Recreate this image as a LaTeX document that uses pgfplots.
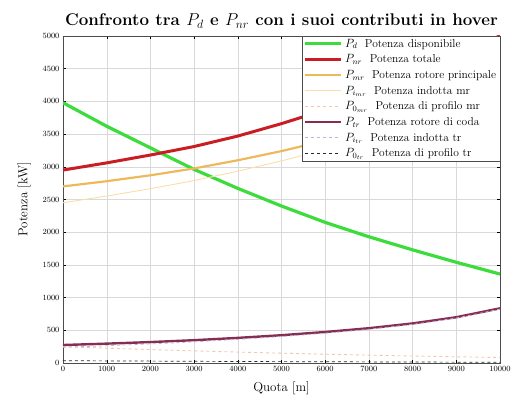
\documentclass[border=0pt]{standalone}
\usepackage{pgfplots}
\pgfplotsset{compat=1.18}
\usepackage{pgfplotstable}

\definecolor{cPd}{RGB}{60,220,60}
\definecolor{cPnr}{RGB}{200,30,35}
\definecolor{cPmr}{RGB}{238,185,90}
\definecolor{cPimr}{RGB}{250,222,170}
\definecolor{cPomr}{RGB}{240,200,175}
\definecolor{cPtr}{RGB}{135,45,80}
\definecolor{cPitr}{RGB}{185,180,225}
\definecolor{cPotr}{RGB}{40,40,40}

% Hover power budget vs altitude [m] -> [kW]
\pgfplotstableread{
h     Pd    Pnr   Pmr   Pimr  Pomr  Ptr  Pitr  Potr
0     3980  2950  2700  2450  250   275  240   35
1000  3620  3060  2780  2553  227   296  264   32
2000  3290  3180  2870  2665  205   320  291   29
3000  2960  3310  2975  2789  186   349  323   26
4000  2670  3470  3100  2933  167   384  361   23
5000  2400  3660  3240  3090  150   425  404   21
6000  2150  3870  3400  3265  135   474  455   19
7000  1930  4110  3590  3470  120   532  515   17
8000  1730  4400  3810  3703  107   605  590   15
9000  1540  4750  4060  3965  95    700  687   13
10000 1360  5170  4350  4266  84    836  824   12
}\hover

\begin{document}
\begin{tikzpicture}
\begin{axis}[
  scale only axis,
  width=437bp, height=327bp,
  xmin=0, xmax=10000, ymin=0, ymax=5000,
  xtick={0,1000,...,10000},
  ytick={0,500,...,5000},
  scaled ticks=false,
  /pgf/number format/.cd, set thousands separator={}, /pgfplots/.cd,
  tick label style={font=\fontsize{8}{9}\selectfont},
  grid=major,
  major grid style={gray!30, line width=0.4pt},
  tick align=inside,
  tick style={black, line width=0.4pt},
  major tick length=3pt,
  axis line style={black!70, line width=0.6pt},
  title={\bfseries Confronto tra $P_d$ e $P_{nr}$ con i suoi contributi in hover},
  title style={font=\fontsize{17}{19}\selectfont, yshift=-2pt},
  xlabel={Quota [m]},
  ylabel={Potenza [kW]},
  label style={font=\fontsize{13}{15}\selectfont},
  xlabel style={yshift=-3pt},
  ylabel style={yshift=5pt},
  legend cell align=left,
  legend style={font=\fontsize{11.5}{13}\selectfont, draw=black!70, line width=0.5pt,
    fill=white, inner sep=1.5pt, outer sep=0pt, row sep=3pt,
    at={(1,1)}, anchor=north east,
    nodes={inner ysep=1.5pt, inner xsep=2.5pt}},
  legend image post style={xscale=2.1},
  clip=true,
]
\addplot[cPd, line width=3.2pt] table[x=h, y=Pd] {\hover};
\addlegendentry{$P_d$\ \ Potenza disponibile}
\addplot[cPnr, line width=3pt, restrict y to domain*=0:5000] table[x=h, y=Pnr] {\hover};
\addlegendentry{$P_{nr}$\ \ Potenza totale}
\addplot[cPmr, line width=2.2pt] table[x=h, y=Pmr] {\hover};
\addlegendentry{$P_{mr}$\ \ Potenza rotore principale}
\addplot[cPimr, line width=0.9pt] table[x=h, y=Pimr] {\hover};
\addlegendentry{$P_{i_{mr}}$\ \ Potenza indotta mr}
\addplot[cPomr, line width=0.9pt, dashed] table[x=h, y=Pomr] {\hover};
\addlegendentry{$P_{0_{mr}}$\ \ Potenza di profilo mr}
\addplot[cPtr, line width=2.4pt] table[x=h, y=Ptr] {\hover};
\addlegendentry{$P_{tr}$\ \ Potenza rotore di coda}
\addplot[cPitr, line width=0.8pt, dashed] table[x=h, y=Pitr] {\hover};
\addlegendentry{$P_{i_{tr}}$\ \ Potenza indotta tr}
\addplot[cPotr, line width=0.7pt, dashed] table[x=h, y=Potr] {\hover};
\addlegendentry{$P_{0_{tr}}$\ \ Potenza di profilo tr}
\end{axis}
\path ([shift={(-63bp,-44bp)}]current axis.south west)
  rectangle ([shift={(18bp,36bp)}]current axis.north east);
\end{tikzpicture}
\end{document}
